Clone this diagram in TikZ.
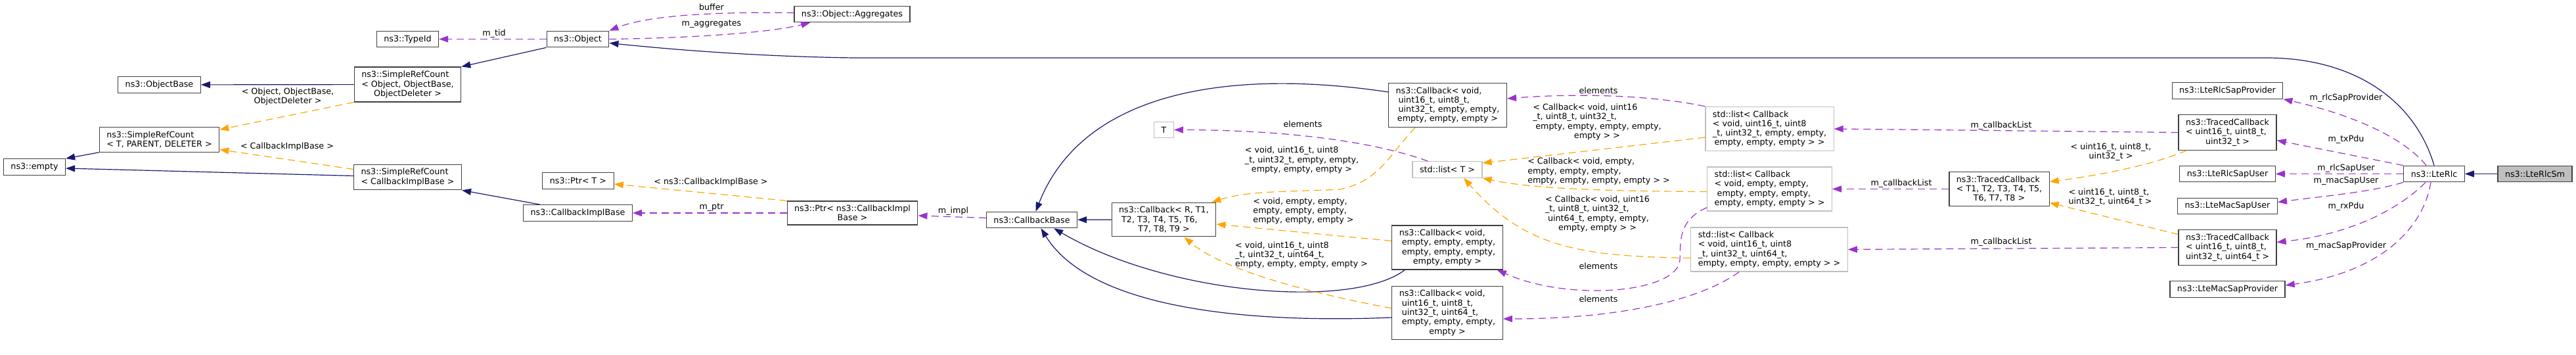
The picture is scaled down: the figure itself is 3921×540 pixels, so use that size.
\documentclass[tikz,border=0pt]{standalone}
\usepackage{fontspec}
\setmainfont{DejaVu Sans}
\usepackage{tikz}
\usetikzlibrary{arrows.meta, calc}
\definecolor{inhcol}{HTML}{191970}
\definecolor{tplcol}{HTML}{FFA500}
\definecolor{usecol}{HTML}{9A32CD}
\definecolor{boxcol}{HTML}{404040}
\definecolor{extcol}{HTML}{BFBFBF}
\newcommand{\lastln}[1]{\hfill#1\hfill\mbox{}}

\begin{document}
\begin{tikzpicture}[
  x=0.5pt, y=-0.5pt,
  cls/.style={
    draw=boxcol, fill=white, font=\fontsize{6.35}{7.15}\selectfont, align=left,
    inner xsep=5.5pt, inner ysep=3pt, minimum height=12.25pt, line width=0.6pt
  },
  ext/.style={cls, draw=extcol},
  self/.style={cls, fill=extcol},
  lbl/.style={font=\fontsize{6.35}{7.15}\selectfont, align=left, inner sep=0pt},
  conn/.style={-{Triangle[length=7pt, width=5pt]}, line width=0.6pt},
  inh/.style={conn, inhcol},
  tpl/.style={conn, tplcol, dash pattern=on 5.5pt off 3.5pt},
  use/.style={conn, usecol, dash pattern=on 5.5pt off 3.5pt}
]
\useasboundingbox (0,0) rectangle (3921,540);

% ============ LEFT: ref counting and object bases ============
\node[cls] (empty) at (52.5,254) {ns3::empty};
\node[cls] (objbase) at (242.5,129) {ns3::ObjectBase};
\node[cls] (srctpd) at (242.5,212.5) {ns3::SimpleRefCount\\\lastln{< T, PARENT, DELETER >}};
\node[cls] (typeid) at (620.5,59.5) {ns3::TypeId};
\node[cls] (srcobj) at (620.5,128.5)
  {ns3::SimpleRefCount\\< Object, ObjectBase,\\\lastln{ObjectDeleter >}};
\node[cls] (srccib) at (620.5,269.5) {ns3::SimpleRefCount\\\lastln{< CallbackImplBase >}};
\node[cls] (object) at (879.5,59.5) {ns3::Object};
\node[cls] (ptrt) at (880,275) {ns3::Ptr< T >};
\node[cls] (cibase) at (879.5,324) {ns3::CallbackImplBase};
\node[cls] (aggr) at (1297,21.5) {ns3::Object::Aggregates};
\node[cls] (ptrcib) at (1297.5,324) {ns3::Ptr< ns3::CallbackImpl\\\lastln{Base >}};
\node[cls] (cbbase) at (1570.5,334.5) {ns3::CallbackBase};

% ============ MIDDLE: callbacks and lists ============
\node[cls] (cbr) at (1771.5,334)
  {ns3::Callback< R, T1,\\\ T2, T3, T4, T5, T6,\\\lastln{T7, T8, T9 >}};
\node[ext] (tt) at (1771.5,197.5) {T};
\node[cls] (cba) at (2203.5,160)
  {ns3::Callback< void,\\\ uint16\_t, uint8\_t,\\\ uint32\_t, empty, empty,\\\lastln{empty, empty, empty >}};
\node[ext] (stdt) at (2203,258) {std::list< T >};
\node[cls] (cbb) at (2203,376.5)
  {ns3::Callback< void,\\\ empty, empty, empty,\\\ empty, empty, empty,\\\lastln{empty, empty >}};
\node[cls] (cbc) at (2203,476)
  {ns3::Callback< void,\\\ uint16\_t, uint8\_t,\\\ uint32\_t, uint64\_t,\\\ empty, empty, empty,\\\lastln{empty >}};
\node[ext] (lista) at (2693.5,196)
  {std::list< Callback\\< void, uint16\_t, uint8\\\_t, uint32\_t, empty, empty,\\\lastln{empty, empty, empty > >}};
\node[ext] (listb) at (2693.5,287.5)
  {std::list< Callback\\< void, empty, empty,\\\ empty, empty, empty,\\\lastln{empty, empty, empty > >}};
\node[ext] (listc) at (2693,379.5)
  {std::list< Callback\\< void, uint16\_t, uint8\\\_t, uint32\_t, uint64\_t,\\\lastln{empty, empty, empty, empty > >}};

% ============ RIGHT: traced callbacks, saps, rlc ============
\node[cls] (tct) at (3043,287.5) {ns3::TracedCallback\\< T1, T2, T3, T4, T5,\\\lastln{T6, T7, T8 >}};
\node[cls] (rlcprov) at (3390.5,138) {ns3::LteRlcSapProvider};
\node[cls] (tca) at (3390.5,201.5) {ns3::TracedCallback\\< uint16\_t, uint8\_t,\\\lastln{uint32\_t >}};
\node[cls] (rlcuser) at (3390.5,264.5) {ns3::LteRlcSapUser};
\node[cls] (macuser) at (3390.5,313.5) {ns3::LteMacSapUser};
\node[cls] (tcb) at (3390.5,376.5)
  {ns3::TracedCallback\\< uint16\_t, uint8\_t,\\\lastln{uint32\_t, uint64\_t >}};
\node[cls] (macprov) at (3390.5,440) {ns3::LteMacSapProvider};
\node[cls] (rlc) at (3705,264.5) {ns3::LteRlc};
\node[self] (rlcsm) at (3858.5,264.5) {ns3::LteRlcSm};

% ============ inheritance ============
\draw[inh] (rlcsm) -- (rlc);
\draw[inh] (rlc.north) .. controls (3675,150) and (3580,88) .. (3450,88) -- (1300,88)
  .. controls (1150,86) and (1020,75) .. ($(object.east)+(0,6)$);
\draw[inh] (object.south west) -- (srcobj.north east);
\draw[inh] (srcobj) -- (objbase);
\draw[inh] (srctpd.south west) -- (empty.north east);
\draw[inh] ($(srccib.west)+(0,-2)$) -- ($(empty.east)+(0,2)$);
\draw[inh] ($(cibase.north west)+(26,0)$) -- (srccib.south east);
\draw[inh] (cbr) -- (cbbase);
\draw[inh] ($(cba.west)+(0,-20)$) .. controls (1880,105) and (1650,135) .. ($(cbbase.north)+(6,0)$);
\draw[inh] ($(cbb.south west)+(20,0)$) .. controls (2060,470) and (1780,450) .. ($(cbbase.south east)+(-36,0)$);
\draw[inh] ($(cbc.west)+(0,7)$) .. controls (1900,492) and (1660,470) .. ($(cbbase.south)+(14,0)$);

% ============ template instances ============
\draw[tpl] (srcobj.south west) -- ($(srctpd.north east)+(0,4)$);
\draw[tpl] ($(srccib.west)+(0,-12)$) -- ($(srctpd.east)+(0,15)$);
\draw[tpl] (ptrcib.north west) -- ($(ptrt.east)+(0,5)$);
\draw[tpl] ($(cba.south west)+(41,0)$) .. controls (2115,235) and (2100,275) .. (2040,288)
  .. controls (1960,292) and (1900,290) .. ($(cbr.north east)+(-7,0)$);
\draw[tpl] ($(cbb.west)+(0,-10)$) -- ($(cbr.east)+(0,7)$);
\draw[tpl] ($(cbc.west)+(0,-7)$) .. controls (1990,445) and (1860,410) .. ($(cbr.south)+(31,0)$);
\draw[tpl] ($(lista.west)+(0,13)$) -- ($(stdt.east)+(0,-10)$);
\draw[tpl] ($(listb.west)+(0,4)$) .. controls (2420,291) and (2320,285) .. (stdt.south east);
\draw[tpl] ($(listc.west)+(0,13)$) .. controls (2400,390) and (2320,375) .. ($(stdt.south)+(25,0)$);
\draw[tpl] ($(tca.south west)+(13,0)$) .. controls (3280,250) and (3200,266) .. ($(tct.east)+(0,-11)$);
\draw[tpl] ($(tcb.west)+(0,-20)$) -- ($(tct.east)+(0,21)$);

% ============ members ============
\draw[use] (object.west) -- (typeid.east);
\draw[use] ($(aggr.west)+(0,-2)$) .. controls (1100,18) and (990,22) .. (object.north east);
\draw[use] (object.east) .. controls (1050,58) and (1170,50) .. ($(aggr.south west)+(25,0)$);
\draw[use] (ptrcib.west) -- (cibase.east);
\draw[use] ($(cbbase.west)+(0,-3)$) -- ($(ptrcib.east)+(0,4)$);
\draw[use] ($(stdt.north west)+(24,0)$) .. controls (2110,222) and (1990,198) .. (tt.east);
\draw[use] (lista.north west) .. controls (2500,142) and (2380,143) .. ($(cba.east)+(0,-10)$);
\draw[use] ($(listb.south west)+(0,-6)$) .. controls (2555,335) and (2558,365) .. (2557,395)
  .. controls (2555,445) and (2390,460) .. ($(cbb.south east)+(-9,0)$);
\draw[use] ($(listc.south)+(-46,0)$) .. controls (2590,455) and (2470,485) .. ($(cbc.east)+(0,9)$);
\draw[use] (tca.west) -- (lista.east);
\draw[use] (tct.west) -- (listb.east);
\draw[use] (tcb.west) -- (listc.east);
\draw[use] ($(rlc.north)+(-12,0)$) .. controls (3655,205) and (3570,172) .. (rlcprov.south east);
\draw[use] (rlc.north west) -- ($(tca.east)+(0,12)$);
\draw[use] (rlc.west) -- (rlcuser.east);
\draw[use] (rlc.south west) .. controls (3610,292) and (3540,298) .. ($(macuser.east)+(0,-6)$);
\draw[use] ($(rlc.south)+(-13,0)$) .. controls (3660,310) and (3590,355) .. ($(tcb.east)+(0,-8)$);
\draw[use] ($(rlc.south)+(-5,0)$) .. controls (3688,350) and (3620,415) .. ($(macprov.east)+(0,-6)$);

% ============ edge labels ============
\node[lbl] (lsrcobj) at (438,147) {< Object, ObjectBase,\\\lastln{ObjectDeleter >}};
\node[lbl] (lsrccib) at (437,223) {< CallbackImplBase >};
\node[lbl] (ltid) at (752,51) {m\_tid};
\node[lbl] (lbuffer) at (1083,11) {buffer};
\node[lbl] (laggr) at (1083,37) {m\_aggregates};
\node[lbl] (lptrt) at (1082,277) {< ns3::CallbackImplBase >};
\node[lbl] (lptr) at (1083,316) {m\_ptr};
\node[lbl] (limpl) at (1451,321) {m\_impl};
\node[lbl] (lelemt) at (1983,189) {elements};
\node[lbl] (lcba) at (1981.5,243.5)
  {< void, uint16\_t, uint8\\\_t, uint32\_t, empty, empty,\\\lastln{empty, empty, empty >}};
\node[lbl] (lcbb) at (1984,321)
  {< void, empty, empty,\\empty, empty, empty,\\\lastln{empty, empty, empty >}};
\node[lbl] (lcbc) at (1981,388)
  {< void, uint16\_t, uint8\\\_t, uint32\_t, uint64\_t,\\\lastln{empty, empty, empty, empty >}};
\node[lbl] (lelema) at (2433,138) {elements};
\node[lbl] (llista) at (2431,185.5)
  {< Callback< void, uint16\\\_t, uint8\_t, uint32\_t,\\\ empty, empty, empty, empty,\\\lastln{empty > >}};
\node[lbl] (llistb) at (2433.5,260.5)
  {< Callback< void, empty,\\empty, empty, empty,\\\lastln{empty, empty, empty, empty > >}};
\node[lbl] (llistc) at (2431.5,325.5)
  {< Callback< void, uint16\\\_t, uint8\_t, uint32\_t,\\\ uint64\_t, empty, empty,\\\lastln{empty, empty > >}};
\node[lbl] (lelemb) at (2433,405) {elements};
\node[lbl] (lelemc) at (2433,455) {elements};
\node[lbl] (lcbla) at (3046,191) {m\_callbackList};
\node[lbl] (lcblb) at (2894,279) {m\_callbackList};
\node[lbl] (lcblc) at (3046,368) {m\_callbackList};
\node[lbl] (ltca) at (3213,231) {< uint16\_t, uint8\_t,\\\lastln{uint32\_t >}};
\node[lbl] (ltcb) at (3212,300) {< uint16\_t, uint8\_t,\\\lastln{uint32\_t, uint64\_t >}};
\node[lbl] (lrlcprov) at (3571,149) {m\_rlcSapProvider};
\node[lbl] (ltx) at (3571,212) {m\_txPdu};
\node[lbl] (lrlcuser) at (3571,256) {m\_rlcSapUser};
\node[lbl] (lmacuser) at (3571,275) {m\_macSapUser};
\node[lbl] (lrx) at (3571,314) {m\_rxPdu};
\node[lbl] (lmacprov) at (3571,374) {m\_macSapProvider};

\end{tikzpicture}
\end{document}
